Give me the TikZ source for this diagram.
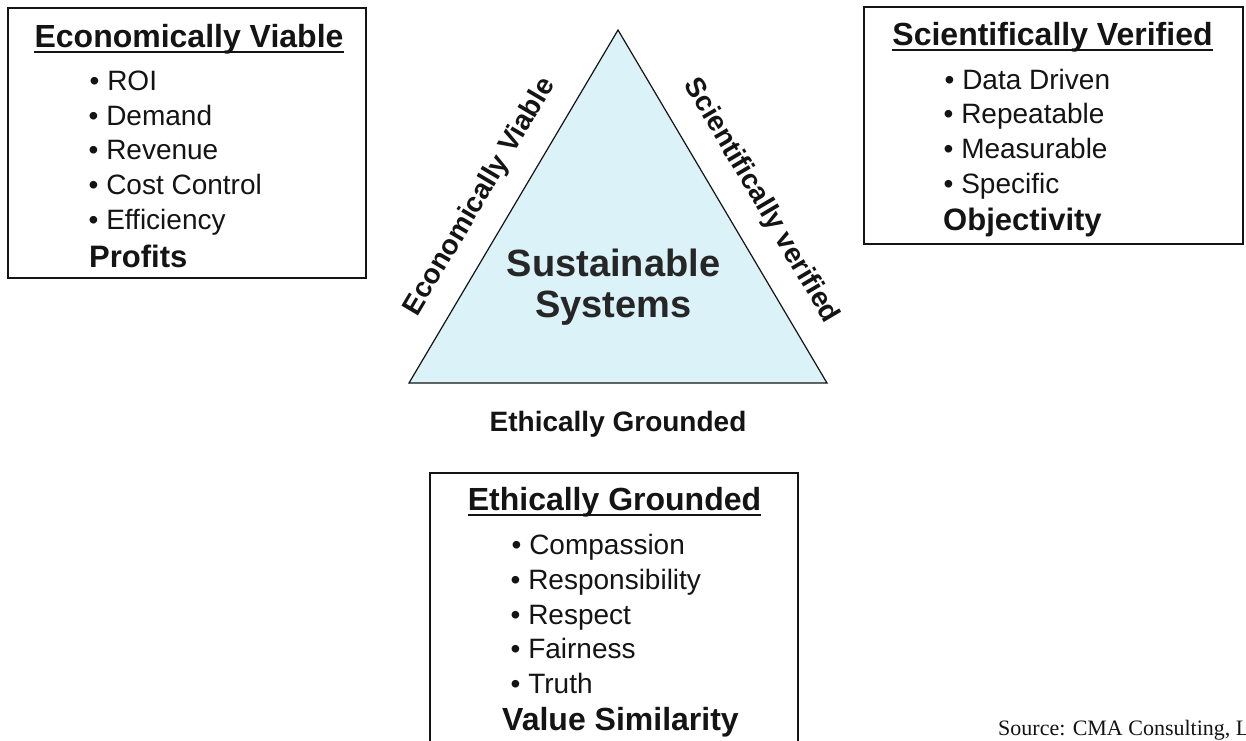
\documentclass[tikz,border=0pt]{standalone}
\usepackage{fontspec}
\setmainfont{Liberation Sans}
\newfontfamily\srcfont{Liberation Serif}
\definecolor{trifill}{RGB}{218,242,248}
\definecolor{ink}{RGB}{20,20,20}
\definecolor{darkink}{RGB}{38,38,38}
\begin{document}
\begin{tikzpicture}[x=1pt,y=-1pt,
  box/.style={draw=ink, line width=1.4pt, inner sep=0pt, minimum width=#1},
  ttl/.style={font=\bfseries\fontsize{32}{38}\selectfont, inner sep=0pt, anchor=base, text=ink},
  item/.style={font=\fontsize{28}{34}\selectfont, inner sep=0pt, anchor=base west, text=ink},
  sumw/.style={font=\bfseries\fontsize{31}{37}\selectfont, inner sep=0pt, anchor=base west, text=ink},
  side/.style={font=\bfseries\fontsize{28}{34}\selectfont, inner sep=0pt, text=ink},
  center/.style={font=\bfseries\fontsize{38}{44}\selectfont, inner sep=0pt, anchor=base, text=darkink},
  uline/.style={line width=2.4pt, draw=ink}]
\useasboundingbox (0,0) rectangle (1246,740);
\fill[white] (0,0) rectangle (1246,740);

% triangle
\coordinate (A) at (618,30);
\coordinate (B) at (409,383);
\coordinate (C) at (827,383);
\draw[fill=trifill, draw=ink, line width=1.2pt, line join=miter] (A) -- (B) -- (C) -- cycle;
\node[center] (s1) at (613.5,276) {Sustainable};
\node[center] (s2) at (613.5,317) {Systems};
\node[side, rotate=59.4] (evl) at (480,197) {Economically Viable};
\node[side, rotate=-59.4] (svl) at (761,201) {Scientifically verified};
\node[side, anchor=base] (egl) at (618,431) {Ethically Grounded};

% left box
\node[box=358pt, minimum height=270pt] (evbox) at (187,143) {};
\node[ttl] (evt) at (189,47) {Economically Viable};
\draw[uline] ([yshift=-5pt]evt.base west) -- ([yshift=-5pt]evt.base east);
\node[item] (ev1) at (89.5,90) {• ROI};
\node[item] (ev2) at (88.5,125) {• Demand};
\node[item] (ev3) at (88.5,159.5) {• Revenue};
\node[item] (ev4) at (88.5,194) {• Cost Control};
\node[item] (ev5) at (88.5,229) {• Efficiency};
\node[sumw] (evp) at (89,267) {Profits};

% right box
\node[box=379pt, minimum height=237pt] (svbox) at (1053.5,125.5) {};
\node[ttl] (svt) at (1052.5,45) {Scientifically Verified};
\draw[uline] ([yshift=-5pt]svt.base west) -- ([yshift=-5pt]svt.base east);
\node[item] (sv1) at (944.5,89) {• Data Driven};
\node[item] (sv2) at (943.5,123) {• Repeatable};
\node[item] (sv3) at (943.5,158) {• Measurable};
\node[item] (sv4) at (943.5,193) {• Specific};
\node[sumw] (svp) at (943,230) {Objectivity};

% bottom box
\node[box=368pt, minimum height=300pt] (egbox) at (614,623) {};
\node[ttl] (egt) at (614.5,510) {Ethically Grounded};
\draw[uline] ([yshift=-5pt]egt.base west) -- ([yshift=-5pt]egt.base east);
\node[item] (eg1) at (511.5,554) {• Compassion};
\node[item] (eg2) at (510.5,589) {• Responsibility};
\node[item] (eg3) at (510.5,624) {• Respect};
\node[item] (eg4) at (510.5,658) {• Fairness};
\node[item] (eg5) at (510.5,693) {• Truth};
\node[sumw, font=\bfseries\fontsize{32}{38}\selectfont] (egp) at (502,730) {Value Similarity};

% source
\node[font=\srcfont\fontsize{22}{26}\selectfont, anchor=base west, inner sep=0pt, text=ink] (src) at (998,735) {Source: CMA Consulting, L};
\end{tikzpicture}
\end{document}
